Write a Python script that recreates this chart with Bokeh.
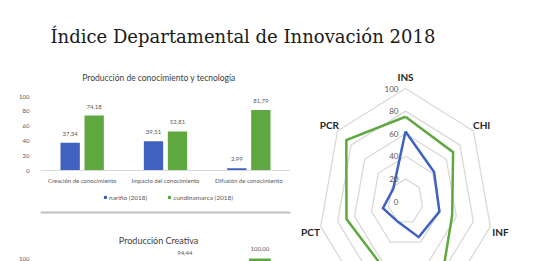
import numpy as np
from bokeh.plotting import figure
from bokeh.models import (ColumnDataSource, FixedTicker, Span, Legend, LegendItem,
                          Range1d, LinearAxis)
from bokeh.layouts import column, row
from bokeh.embed import file_html
from bokeh.resources import INLINE
from bokeh.core.properties import value
from bokeh.transform import dodge

# ---------------- data ----------------
main_title = "Índice Departamental de Innovación 2018"
series_names = ["nariño (2018)", "cundinamarca (2018)"]

pct_title = "Producción de conocimiento y tecnología"
pct_categories = ["Creación de conocimiento", "Impacto del conocimiento", "Difusión de conocimiento"]
narino_pct = [37.34, 39.51, 2.99]
cundinamarca_pct = [74.18, 52.81, 81.79]

pcr_title = "Producción Creativa"
pcr_categories = ["Bienes intangibles", "Bienes y servicios creativos", "Creatividad en línea"]
narino_pcr = [20.0, 14.0, 20.0]
cundinamarca_pcr = [66.6, 94.44, 100.00]

bar_y_ticks = [0, 20, 40, 60, 80, 100]

radar_axes = ["INS", "CHI", "INF", "SOM", "SON", "PCT", "PCR"]
narino_radar = [62, 42, 40, 35, 20, 26.6, 18]
cundinamarca_radar = [75, 70, 55, 90, 63, 69.6, 87]
radar_ticks = [0, 20, 40, 60, 80, 100]

# ---------------- styles ----------------
BLUE = "#3F62C0"
GREEN = "#5FA83F"
TEXT = "#595959"
SANS = "Lato"
SERIF = "DejaVu Serif"


def fmt(v):
    return f"{v:.2f}".replace(".", ",")


def base_fig(**kw):
    p = figure(output_backend="svg", toolbar_location=None, title=None,
               x_axis_location=None, y_axis_location=None, **kw)
    p.grid.visible = False
    p.outline_line_color = None
    p.background_fill_color = "white"
    p.border_fill_color = "white"
    return p


def style_axis(ax, size="6px"):
    ax.axis_line_color = None
    ax.major_tick_line_color = None
    ax.minor_tick_line_color = None
    ax.major_label_text_font = SANS
    ax.major_label_text_font_size = size
    ax.major_label_text_color = TEXT


# ---------------- main title ----------------
p0 = base_fig(width=533, height=55, x_range=Range1d(0, 533), y_range=Range1d(55, 0),
              min_border=0)
p0.text(x=[50], y=[36], text=[main_title], text_font=value(SERIF),
        text_font_size="18px", text_color="#1a1a1a", text_baseline="alphabetic",
        text_align="left")

# ---------------- chart 1: PCT ----------------
PPU = 0.74          # pixels per value unit (vertical)
H1, ZERO1 = 161, 115
SEP1 = 157          # px from the chart top to the closing separator line
CAT1 = 83.33
W1, OFF1 = 0.232, 0.144
n1 = len(pct_categories)
xs1 = list(range(n1))
p1 = base_fig(width=297, height=H1, min_border_left=40, min_border_right=7,
              min_border_top=0, min_border_bottom=0,
              x_range=Range1d(-0.5, n1 - 0.5),
              y_range=Range1d(-(H1 - ZERO1) / PPU, ZERO1 / PPU))
src1 = ColumnDataSource(dict(x=xs1, cat=pct_categories, zero=[0] * n1,
                             nar=narino_pct, cun=cundinamarca_pct,
                             nl=[fmt(v) for v in narino_pct],
                             cl=[fmt(v) for v in cundinamarca_pct]))
p1.add_layout(Span(location=0, dimension="width", line_color="#d9d9d9", line_width=1))
p1.add_layout(Span(location=-(SEP1 - ZERO1) / PPU, dimension="width",
                   line_color="#bfbfbf", line_width=2))
rb1 = p1.vbar(x=dodge("x", -OFF1), top="nar", width=W1, source=src1,
              fill_color=BLUE, line_color=None)
rg1 = p1.vbar(x=dodge("x", OFF1), top="cun", width=W1, source=src1,
              fill_color=GREEN, line_color=None)
for col, lab, off in (("nar", "nl", -OFF1), ("cun", "cl", OFF1)):
    p1.text(x=dodge("x", off), y=col, text=lab, source=src1, text_align="center",
            text_baseline="middle", y_offset=-9, text_font=value(SANS),
            text_font_size="6px", text_color=TEXT)
p1.text(x="x", y="zero", text="cat", source=src1, text_align="center",
        text_baseline="middle", y_offset=10, text_font=value(SANS),
        text_font_size="6px", text_color=TEXT)
p1.text(x=[-0.5 + (158.5 - 40) / CAT1], y=[(ZERO1 - 22) / PPU], text=[pct_title],
        text_align="center", text_baseline="middle", text_font=value(SANS),
        text_font_size="8.5px", text_color="#404040")

ya1 = LinearAxis(ticker=FixedTicker(ticks=bar_y_ticks))
style_axis(ya1)
ya1.major_label_standoff = 5
p1.add_layout(ya1, "left")

leg1 = Legend(items=[LegendItem(label=series_names[0], renderers=[rb1]),
                     LegendItem(label=series_names[1], renderers=[rg1])],
              orientation="horizontal", location=(63, 15))
leg1.label_text_font = SANS
leg1.label_text_font_size = "6.5px"
leg1.label_text_color = TEXT
leg1.glyph_width = 4
leg1.glyph_height = 4
leg1.label_height = 8
leg1.label_standoff = 2
leg1.spacing = 20
leg1.padding = 0
leg1.margin = 0
leg1.border_line_color = None
leg1.background_fill_alpha = 0
p1.add_layout(leg1)

# ---------------- chart 2: PCR (cut off) ----------------
H2, TOP2 = 45, 42   # px from top of chart2 to value 100
CAT2 = 76
W2, OFF2 = 0.29, 0.178
n2 = len(pcr_categories)
xs2 = list(range(n2))
x2_start = -0.5 - 18.5 / CAT2
y2_start = 100 - (H2 - TOP2) / PPU
y2_end = 100 + TOP2 / PPU
p2 = base_fig(width=297, height=H2, min_border_left=37, min_border_right=7,
              min_border_top=0, min_border_bottom=0,
              x_range=Range1d(x2_start, x2_start + 253 / CAT2),
              y_range=Range1d(y2_start, y2_end))
src2 = ColumnDataSource(dict(x=xs2, nar=narino_pcr, cun=cundinamarca_pcr))
p2.vbar(x=dodge("x", -OFF2), top="nar", width=W2, source=src2,
        fill_color=BLUE, line_color=None)
p2.vbar(x=dodge("x", OFF2), top="cun", width=W2, source=src2,
        fill_color=GREEN, line_color=None)
LAB_OFF2 = 10
for vals, off in ((narino_pcr, -OFF2), (cundinamarca_pcr, OFF2)):
    # only the value labels that fall inside the visible strip
    vis = [i for i, v in enumerate(vals) if v + (LAB_OFF2 - 4) / PPU > y2_start]
    if vis:
        s = ColumnDataSource(dict(x=[xs2[i] for i in vis], y=[vals[i] for i in vis],
                                  t=[fmt(vals[i]) for i in vis]))
        p2.text(x=dodge("x", off), y="y", text="t", source=s, text_align="center",
                text_baseline="middle", y_offset=-LAB_OFF2, text_font=value(SANS),
                text_font_size="6px", text_color=TEXT)
p2.text(x=[x2_start + (156.5 - 37) / CAT2], y=[100 + (TOP2 - 24) / PPU], text=[pcr_title],
        text_align="center", text_baseline="middle", text_font=value(SANS),
        text_font_size="9px", text_color="#404040")
ya2 = LinearAxis(ticker=FixedTicker(ticks=bar_y_ticks))
style_axis(ya2)
ya2.major_label_standoff = 5
p2.add_layout(ya2, "left")

# ---------------- radar ----------------
SX, SY = 0.87, 1.13     # px per unit horizontally / vertically
RW, RH = 236, 206
CX, CY = 108, 146       # centre in px inside the radar figure
ry_start = -(RH - CY) / SY
p3 = base_fig(width=RW, height=RH, min_border=0,
              x_range=Range1d(-CX / SX, (RW - CX) / SX),
              y_range=Range1d(ry_start, CY / SY))
k = len(radar_axes)
theta = 2 * np.pi * np.arange(k) / k
sin_t, cos_t = np.sin(theta), np.cos(theta)


def closed(vals):
    v = np.asarray(vals, dtype=float)
    xs = list(v * sin_t) + [v[0] * sin_t[0]]
    ys = list(v * cos_t) + [v[0] * cos_t[0]]
    return xs, ys


rings = [closed([t] * k) for t in radar_ticks if t > 0]
p3.multi_line(xs=[r[0] for r in rings], ys=[r[1] for r in rings],
              line_color="#d9d9d9", line_width=1.3)
for vals, colr in ((cundinamarca_radar, GREEN), (narino_radar, BLUE)):
    xs, ys = closed(vals)
    p3.line(xs, ys, line_color=colr, line_width=2.5, line_join="miter")
p3.text(x=[0] * len(radar_ticks), y=radar_ticks, text=[str(t) for t in radar_ticks],
        text_align="right", text_baseline="middle", x_offset=-7,
        text_font=value(SANS), text_font_size="8px", text_color=TEXT)
LR = 112
lab_idx = [i for i in range(k) if LR * cos_t[i] > ry_start + 8 / SY]
p3.text(x=[LR * sin_t[i] for i in lab_idx], y=[LR * cos_t[i] for i in lab_idx],
        text=[radar_axes[i] for i in lab_idx],
        text_align="center", text_baseline="middle", y_offset=2, text_font=value(SANS),
        text_font_size="10px", text_font_style="bold", text_color="#262626")

layout = column(p0, row(column(p1, p2), p3))
open("out.html", "w").write(file_html(layout, INLINE))
